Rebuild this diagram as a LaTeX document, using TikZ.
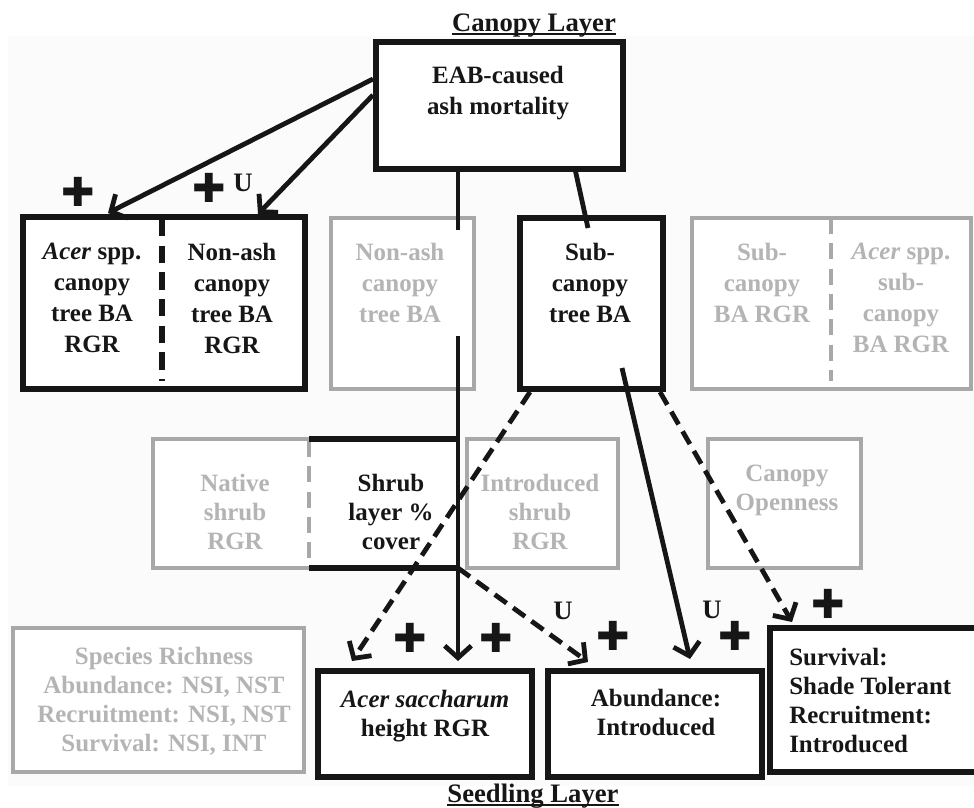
\documentclass[tikz,border=0pt]{standalone}
\usepackage{fontspec}
\setmainfont{Liberation Serif}
\newfontfamily\symfont{DejaVu Sans}
\usetikzlibrary{arrows.meta,fit,calc}

\definecolor{ink}{RGB}{22,22,22}
\definecolor{boxgray}{RGB}{168,168,168}
\definecolor{txtgray}{RGB}{180,180,180}
\definecolor{paper}{RGB}{251,251,251}

\tikzset{
 bbox/.style={draw=ink, line width=4pt, fill=white, inner sep=0pt, outer sep=0pt},
 gbox/.style={draw=boxgray, line width=3.3pt, fill=white, inner sep=0pt, outer sep=0pt},
 txt/.style={inner sep=0pt, align=center, font=\fontsize{18.7}{21.75}\selectfont\bfseries, text=ink},
 txtw/.style={txt, font=\fontsize{18.7}{23.25}\selectfont\bfseries},
 gtxt/.style={txt, text=txtgray},
 gtxtw/.style={txtw, text=txtgray},
 conn/.style={draw=ink, line width=3.6pt},
 arr/.style={conn, -{Straight Barb[length=9pt,width=20pt]}},
 dconn/.style={arr, dash pattern=on 11pt off 6pt},
 bdiv/.style={draw=ink, line width=4.2pt, dash pattern=on 13pt off 7pt},
 gdiv/.style={draw=boxgray, line width=3.3pt, dash pattern=on 12pt off 7pt},
 plus/.style={font=\symfont\fontsize{30}{30}\selectfont, text=ink, inner sep=0pt},
 ulab/.style={font=\fontsize{20}{20}\selectfont\bfseries, text=ink, inner sep=0pt},
 ttl/.style={font=\fontsize{20}{20}\selectfont\bfseries, text=ink, inner sep=0pt, anchor=base},
 uline/.style={draw=ink, line width=1.5pt},
}

\begin{document}
\begin{tikzpicture}[x=0.75pt,y=-0.75pt]
\useasboundingbox (0,0) rectangle (974,807);
\fill[paper] (8,36) rectangle (974,786);

% titles
\node[ttl] (canopyT) at (534,31) {Canopy Layer};
\draw[uline] ($(canopyT.base west)+(0,3)$) -- ($(canopyT.base east)+(0,3)$);
\node[ttl] (seedT) at (533,802) {Seedling Layer};
\draw[uline] ($(seedT.base west)+(0,3)$) -- ($(seedT.base east)+(0,3)$);

% gray boxes
\node[gbox, fit={(331,218)(474,389)}] (NonAshG) {};
\node[gbox, fit={(692,218)(971,389)}] (SubG) {};
\draw[gdiv] (831,218) -- (831,381);
\node[gbox, fit={(153,439)(458,568)}] (Native) {};
\draw[gdiv] (309,441) -- (309,566);
\node[gbox, fit={(467,439)(618,568)}] (Intro) {};
\node[gbox, fit={(708,439)(861,568)}] (Open) {};
\node[gbox, fit={(13,628)(304,772)}] (Species) {};

% black boxes
\node[bbox, fit={(376,42)(623,169)}] (EAB) {};
\node[bbox, fit={(23,217)(305,389)}] (AcerNon) {};
\draw[bdiv] (162,219) -- (162,381);
\node[bbox, fit={(520,218)(663,389)}] (SubCan) {};
\node[inner sep=0pt, outer sep=0pt, fit={(309,439)(458,568)}] (Shrub) {};
\draw[draw=ink, line width=4pt] (Shrub.north west) -- (Shrub.north east);
\draw[draw=ink, line width=4pt] (Shrub.south west) -- (Shrub.south east);
\node[bbox, fit={(318,671)(532,777)}] (AcerSac) {};
\node[bbox, fit={(548,671)(762,777)}] (Abund) {};
\node[bbox, fit={(770,628)(990,772)}] (Surv) {};

% texts
\node[txtw] (tEAB) at (498,93) {EAB-caused\\ash mortality};
\node[txtw] (tAcerC) at (92,298) {\textit{Acer} spp.\\canopy\\tree BA\\RGR};
\node[txtw] (tNonAsh) at (232,298) {Non-ash\\canopy\\tree BA\\RGR};
\node[gtxtw] (tNonAshG) at (400,283) {Non-ash\\canopy\\tree BA};
\node[txtw] (tSubCan) at (590,283) {Sub-\\canopy\\tree BA};
\node[gtxtw] (tSubG) at (762,283) {Sub-\\canopy\\BA RGR};
\node[gtxtw] (tAcerSub) at (901,298) {\textit{Acer} spp.\\sub-\\canopy\\BA RGR};
\node[gtxt] (tNative) at (235,512) {Native\\shrub\\RGR};
\node[txt] (tShrub) at (391,512) {Shrub\\layer \%\\cover};
\node[gtxt] (tIntro) at (540,512) {Introduced\\shrub\\RGR};
\node[gtxt] (tOpen) at (787,490) {Canopy\\Openness};
\node[gtxt] (tSpecies) at (164,701) {Species Richness\\Abundance: NSI, NST\\Recruitment: NSI, NST\\Survival: NSI, INT};
\node[txt] (tAcerSac) at (425,716) {\textit{Acer saccharum}\\height RGR};
\node[txt] (tAbund) at (656,712) {Abundance:\\Introduced};
\node[txt, align=left, anchor=west] (tSurv) at (789,700) {Survival:\\Shade Tolerant\\Recruitment:\\Introduced};

% connectors
\coordinate (gapA) at (458,230);
\coordinate (gapB) at (458,336);
\draw[arr] ($(EAB.north west)+(-3,37)$) -- ($(AcerNon.north west)+(85,-4)$);
\draw[arr] ($(EAB.north west)+(-3,53)$) -- ($(AcerNon.north west)+(235,-3)$);
\draw[conn] (gapA |- EAB.south) -- (gapA);
\draw[arr] (gapB) -- ($(gapB |- AcerSac.north)+(0,-10)$);
\draw[conn] ($(EAB.south west)+(199,0)$) -- ($(SubCan.north west)+(68,10)$);
\draw[dconn] ($(SubCan.south west)+(10,3)$) -- ($(AcerSac.north west)+(34,-10)$);
\draw[arr] ($(SubCan.south west)+(102,-21)$) -- ($(Abund.north west)+(142,-12)$);
\draw[dconn] ($(SubCan.south east)+(-3,3)$) -- ($(Surv.north west)+(22,-6)$);
\draw[dconn] (Shrub.south east) -- ($(Abund.north west)+(40,-9)$);

% signs
\node[plus] (p1) at (78,192) {✚};
\node[plus] (p2) at (209,188) {✚};
\node[ulab] (u1) at (243,183) {U};
\node[plus] (p3) at (410,638) {✚};
\node[plus] (p4) at (496,638) {✚};
\node[ulab] (u2) at (563,611) {U};
\node[plus] (p5) at (613,636) {✚};
\node[ulab] (u3) at (712,610) {U};
\node[plus] (p6) at (735,636) {✚};
\node[plus] (p7) at (828,604) {✚};
\end{tikzpicture}
\end{document}
